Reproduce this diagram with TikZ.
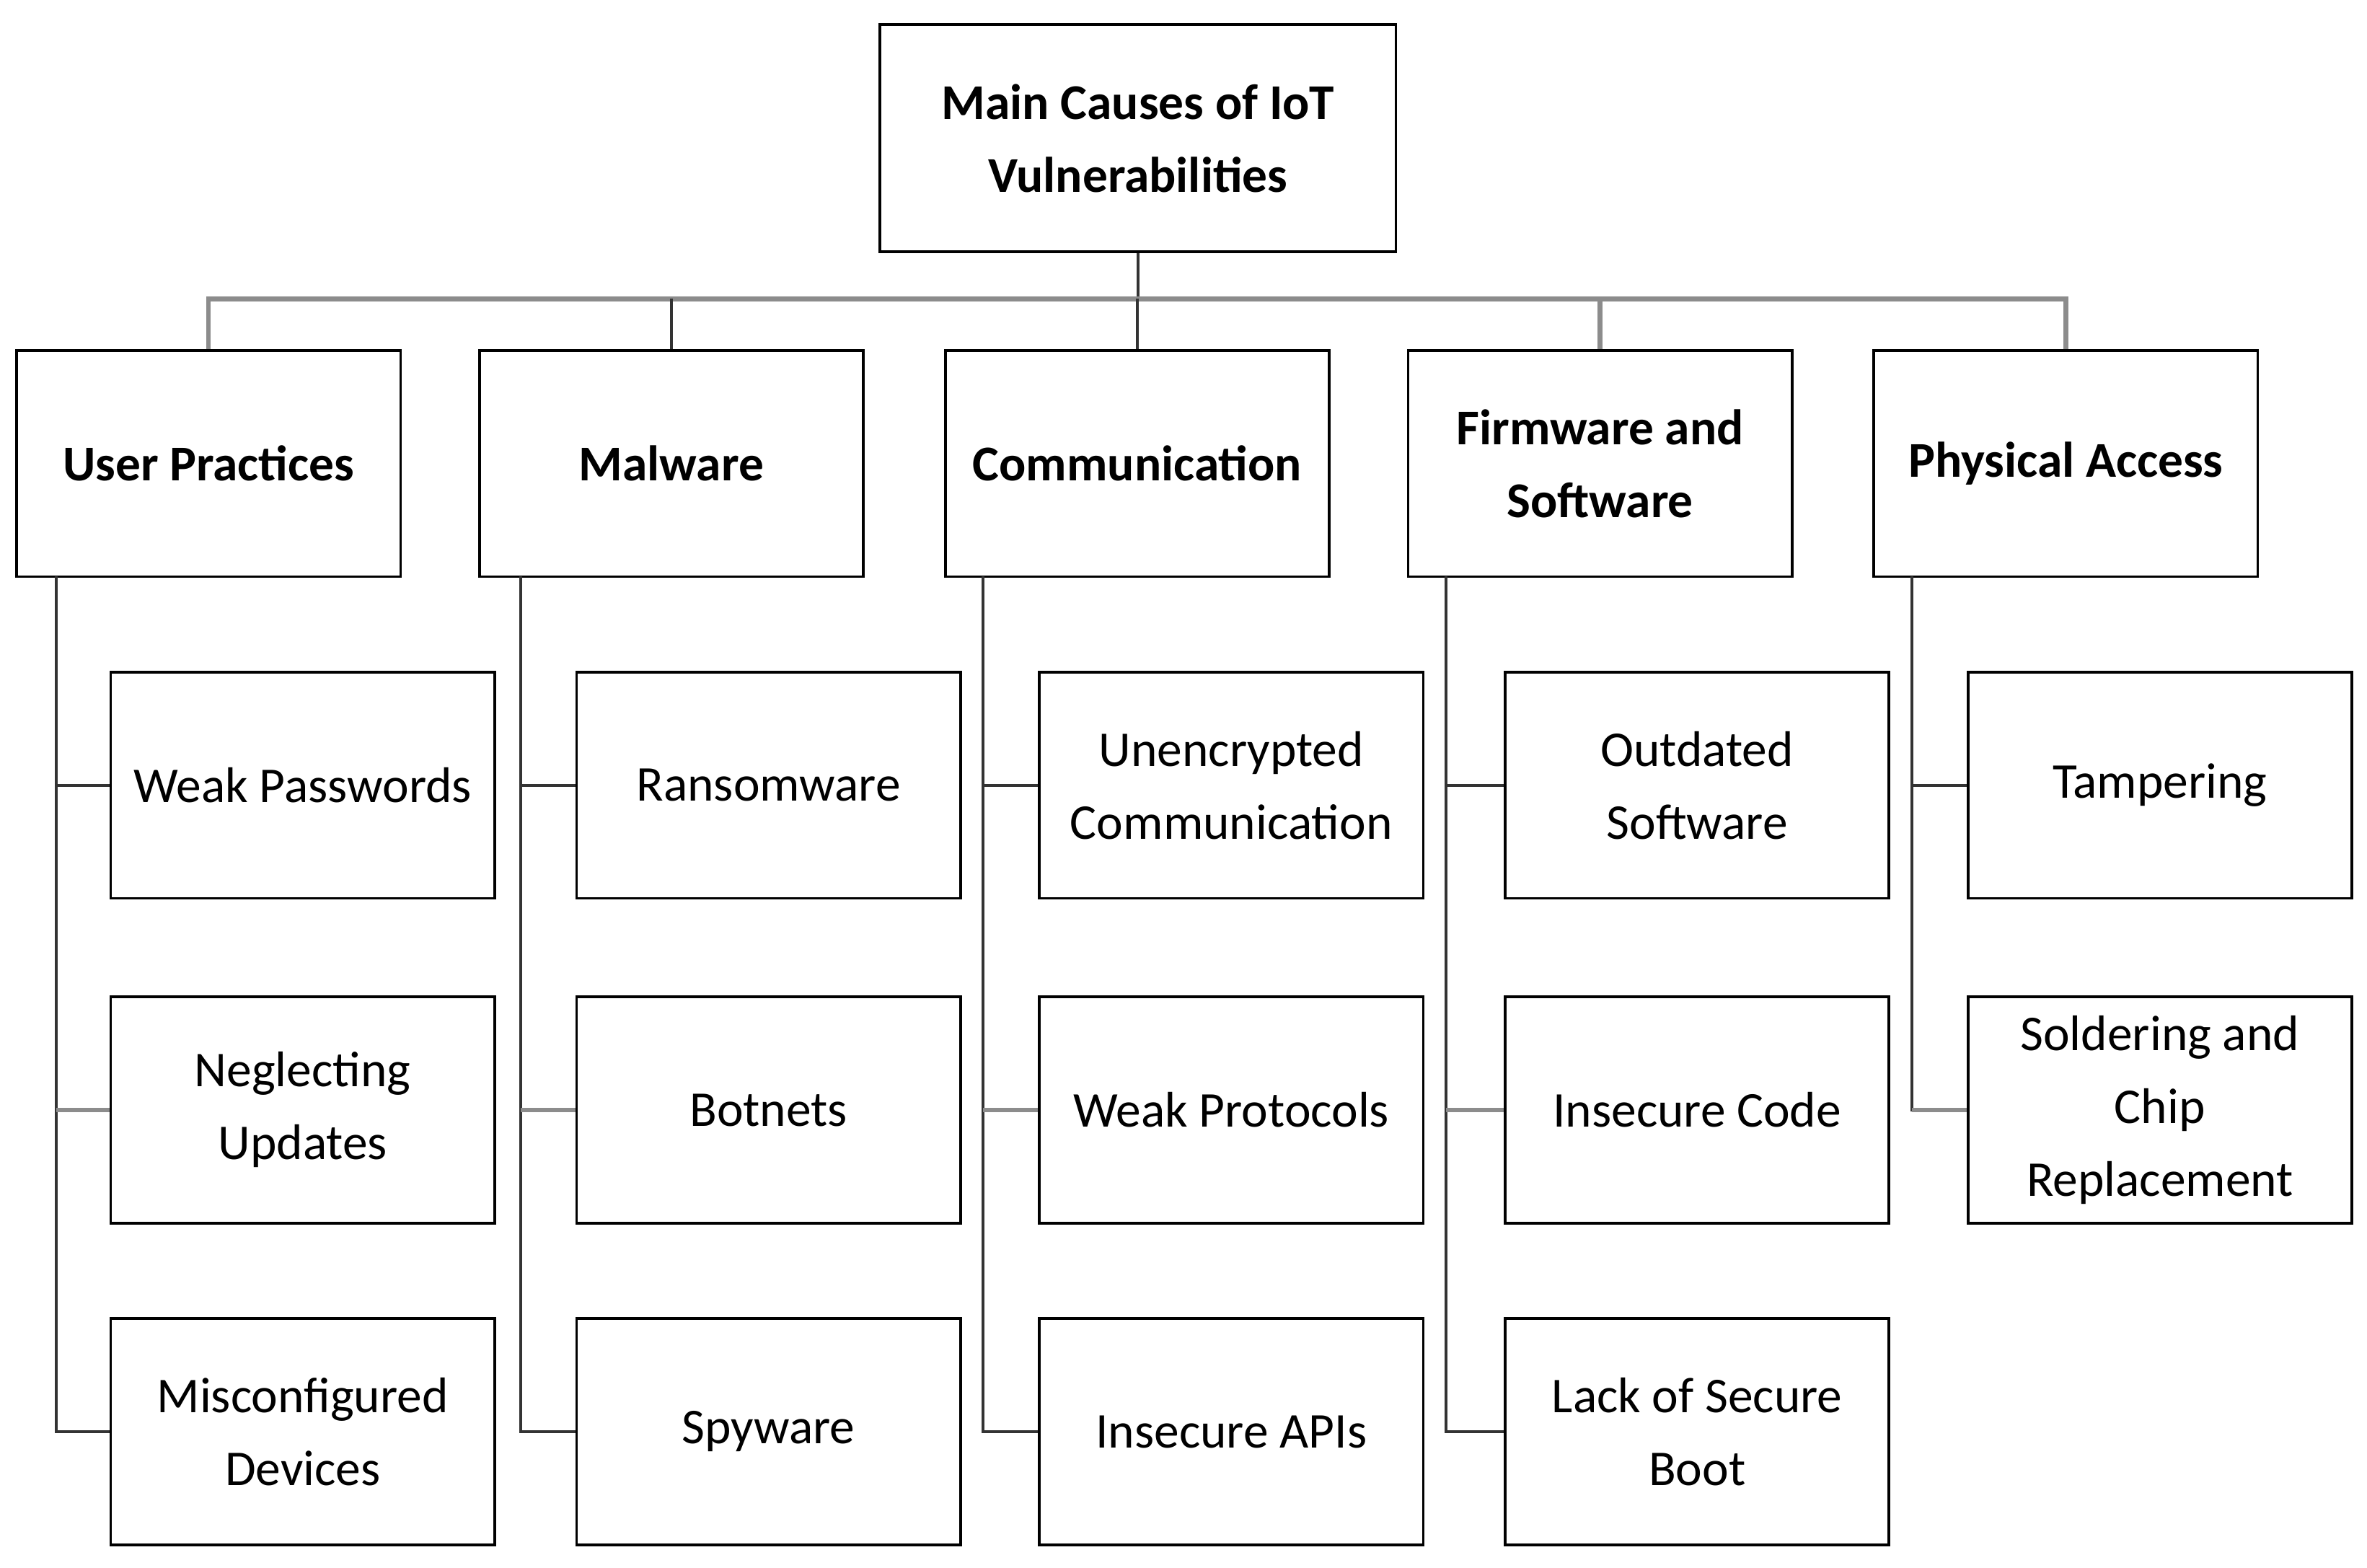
\documentclass[tikz,border=0pt]{standalone}
\usepackage{fontspec}
\setmainfont{Carlito}
\begin{document}
\begin{tikzpicture}[x=1pt,y=-1pt,
  box/.style={draw=black,line width=1.8pt,minimum width=253pt,minimum height=149pt,align=center,font=\fontsize{33}{48}\selectfont,inner sep=0pt},
  cat/.style={box,font=\bfseries\fontsize{33}{48}\selectfont},
  ln/.style={line width=2pt,draw=black!80},
  gl/.style={line width=3pt,draw=black!45}]
\useasboundingbox (0,0) rectangle (1560,1033);
\node[cat,minimum width=340pt,minimum height=150pt] (root) at (750,91) {Main Causes of IoT\\Vulnerabilities};
\node[cat] (c1) at (137.5,305.5) {User Practices};
\node[cat] (c2) at (442.5,305.5) {Malware};
\node[cat] (c3) at (749.5,305.5) {Communication};
\node[cat] (c4) at (1054.5,305.5) {Firmware and\\Software};
\node[cat] (c5) at (1361.5,305.5) {Physical Access};
\coordinate (bus) at (750,197);
\draw[ln] (root.south) -- (bus);
\draw[gl] (c1.north) |- (bus) -| (c5.north);
\draw[ln] (c2.north) -- (c2.north|-bus);
\draw[ln] (c3.north) -- (c3.north|-bus);
\draw[gl] (c4.north) -- (c4.north|-bus);
\foreach \i/\x/\lx in {1/199.5/37,2/506.5/343,3/811.5/648,4/1118.5/953,5/1423.5/1260}{
  \coordinate (v\i) at (\lx,380);
}
\node[box] (a1) at (199.5,517.5) {Weak Passwords};
\node[box] (a2) at (199.5,731.5) {Neglecting\\Updates};
\node[box] (a3) at (199.5,943.5) {Misconfigured\\Devices};
\node[box] (b1) at (506.5,517.5) {Ransomware};
\node[box] (b2) at (506.5,731.5) {Botnets};
\node[box] (b3) at (506.5,943.5) {Spyware};
\node[box] (d1) at (811.5,517.5) {Unencrypted\\Communication};
\node[box] (d2) at (811.5,731.5) {Weak Protocols};
\node[box] (d3) at (811.5,943.5) {Insecure APIs};
\node[box] (e1) at (1118.5,517.5) {Outdated\\Software};
\node[box] (e2) at (1118.5,731.5) {Insecure Code};
\node[box] (e3) at (1118.5,943.5) {Lack of Secure\\Boot};
\node[box] (f1) at (1423.5,517.5) {Tampering};
\node[box] (f2) at (1423.5,731.5) {Soldering and\\Chip\\Replacement};
\foreach \v/\p in {v1/a,v2/b,v3/d,v4/e}{
  \draw[ln] (\v) |- (\p3.west);
  \draw[ln] (\v|-\p1.west) -- (\p1.west);
  \draw[gl] (\v|-\p2.west) -- (\p2.west);
}
\draw[ln] (v5) |- (f2.west);
\draw[ln] (v5|-f1.west) -- (f1.west);
\draw[gl] (v5|-f2.west) -- (f2.west);
\end{tikzpicture}
\end{document}
